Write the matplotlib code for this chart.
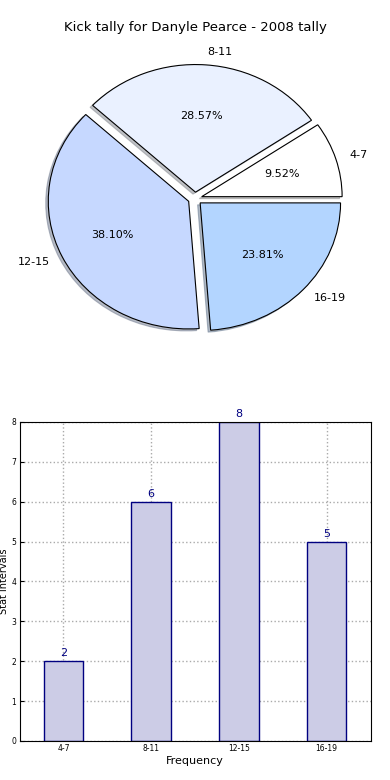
import numpy as np
import matplotlib
matplotlib.use('Agg')
import matplotlib.pyplot as plt

categories = ['4-7', '8-11', '12-15', '16-19']
counts = [2, 6, 8, 5]
pie_colors = ['#ffffff', '#eaf1ff', '#c6d8ff', '#b3d5ff']
explode = [0.05, 0.05, 0.05, 0.05]

fig = plt.figure(figsize=(3.9, 7.8), dpi=100)
fig.subplots_adjust(left=0.05, right=0.95, bottom=0.05, top=0.95, hspace=0.2)

# pie of kick tallies
ax1 = fig.add_subplot(2, 1, 1)
wedges, texts, autotexts = ax1.pie(counts, labels=categories, colors=pie_colors,
                                   explode=explode, autopct='%.2f%%',
                                   shadow={'ox': -0.013, 'oy': -0.011, 'shade': 0.45},
                                   wedgeprops={'edgecolor': 'black', 'linewidth': 0.8},
                                   textprops={'fontsize': 8})
ax1.set_aspect('auto')
ax1.set_title('Kick tally for Danyle Pearce - 2008 tally', fontsize=9.5)

# bar chart of the same counts
ax2 = fig.add_subplot(2, 1, 2)
x = np.arange(len(categories))
ax2.bar(x, counts, width=0.45, color='#cccce6', edgecolor='navy', linewidth=1, zorder=2)
for xi, c in zip(x, counts):
    ax2.text(xi, c + 0.07, str(c), ha='center', va='bottom', color='navy', fontsize=8)
ax2.set_xlim(-0.5, 3.5)
ax2.set_ylim(0, 8)
ax2.set_xticks(x)
ax2.set_xticklabels(categories)
ax2.tick_params(labelsize=5.5, direction='in', length=3, pad=2.5)
ax2.grid(True, linestyle=':', color='#aaaaaa', linewidth=1, zorder=0)
ax2.set_axisbelow(True)
ax2.set_xlabel('Frequency', fontsize=8, labelpad=2)
ax2.set_ylabel('Stat intervals', fontsize=7)
ax2.yaxis.set_label_coords(-0.03, 0.5)

fig.savefig('out.png', dpi=100)
